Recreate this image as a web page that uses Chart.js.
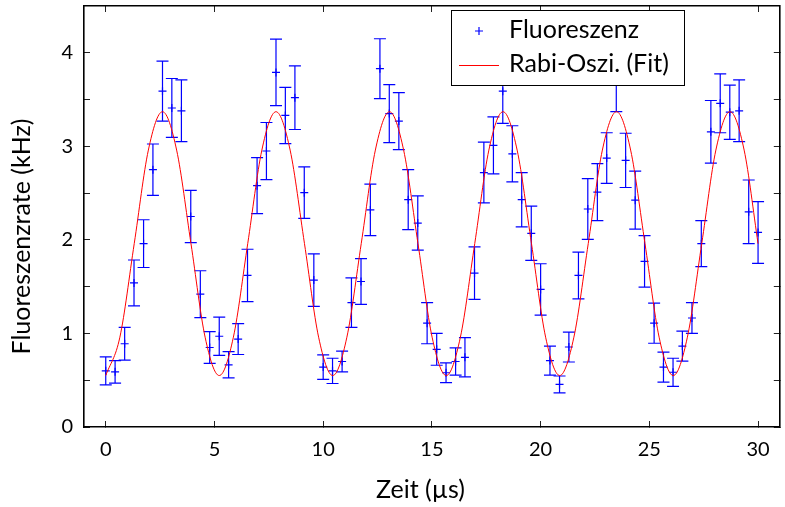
<!DOCTYPE html>
<html>
<head>
<meta charset="utf-8">
<script src="https://cdn.jsdelivr.net/npm/chart.js@4.4.0/dist/chart.umd.min.js"></script>
<style>
  html, body { margin: 0; padding: 0; background: #fff; }
  #wrap { width: 785px; height: 507px; }
</style>
</head>
<body>
<div id="wrap"><canvas id="rabi"></canvas></div>
<script>
// Messpunkte (Zeit in µs, Rate in kHz, Fehler +/-)
const zeit = [0.00, 0.43, 0.87, 1.30, 1.74, 2.17, 2.61, 3.04, 3.48, 3.91,
              4.35, 4.78, 5.22, 5.65, 6.09, 6.52, 6.96, 7.39, 7.83, 8.26,
              8.70, 9.13, 9.57, 10.00, 10.43, 10.87, 11.30, 11.74, 12.17, 12.61,
              13.04, 13.48, 13.91, 14.35, 14.78, 15.22, 15.65, 16.09, 16.52, 16.96,
              17.39, 17.83, 18.26, 18.70, 19.13, 19.57, 20.00, 20.43, 20.87, 21.30,
              21.74, 22.17, 22.61, 23.04, 23.48, 23.91, 24.35, 24.78, 25.22, 25.65,
              26.09, 26.52, 26.96, 27.39, 27.83, 28.26, 28.70, 29.13, 29.57, 30.00];
const rate = [0.60, 0.59, 0.89, 1.54, 1.96, 2.75, 3.59, 3.41, 3.38, 2.25,
              1.42, 0.85, 0.97, 0.665, 0.94, 1.62, 2.58, 2.95, 3.79, 3.33,
              3.52, 2.505, 1.57, 0.64, 0.60, 0.70, 1.33, 1.555, 2.32, 3.83,
              3.35, 3.27, 2.43, 2.18, 1.11, 0.83, 0.58, 0.70, 0.745, 1.645,
              2.72, 3.01, 3.59, 2.92, 2.43, 2.07, 1.47, 0.71, 0.455, 0.855,
              1.62, 2.33, 2.51, 2.875, 3.72, 2.85, 2.425, 1.77, 1.11, 0.64,
              0.585, 0.865, 1.165, 1.96, 3.155, 3.46, 3.365, 3.38, 2.30, 2.08];
const fehler = [0.15, 0.12, 0.175, 0.245, 0.255, 0.275, 0.32, 0.315, 0.33, 0.28,
                0.25, 0.17, 0.205, 0.14, 0.165, 0.28, 0.30, 0.305, 0.355, 0.30,
                0.34, 0.275, 0.28, 0.13, 0.135, 0.11, 0.265, 0.245, 0.275, 0.32,
                0.31, 0.305, 0.32, 0.29, 0.22, 0.17, 0.105, 0.145, 0.21, 0.28,
                0.325, 0.305, 0.345, 0.30, 0.29, 0.29, 0.275, 0.155, 0.09, 0.16,
                0.25, 0.325, 0.305, 0.27, 0.35, 0.29, 0.31, 0.275, 0.215, 0.16,
                0.15, 0.16, 0.165, 0.245, 0.335, 0.315, 0.29, 0.33, 0.34, 0.33];

const fitZeit = [0, 0.65, 1.31, 1.96, 2.61, 3.26, 3.92, 4.57, 5.22, 5.87,
                 6.53, 7.18, 7.83, 8.48, 9.14, 9.79, 10.44, 11.09, 11.75, 12.40,
                 13.05, 13.70, 14.36, 15.01, 15.66, 16.31, 16.97, 17.62, 18.27, 18.92,
                 19.58, 20.23, 20.88, 21.53, 22.19, 22.84, 23.49, 24.14, 24.80, 25.45,
                 26.10, 26.75, 27.41, 28.06, 28.71, 29.36, 30.00];
const fitRate = [0.55, 0.96, 1.96, 2.96, 3.37, 2.96, 1.96, 0.96, 0.55, 0.96,
                 1.96, 2.96, 3.37, 2.96, 1.96, 0.96, 0.55, 0.96, 1.96, 2.96,
                 3.37, 2.96, 1.96, 0.96, 0.55, 0.96, 1.96, 2.96, 3.37, 2.96,
                 1.96, 0.96, 0.55, 0.96, 1.96, 2.96, 3.37, 2.96, 1.96, 0.96,
                 0.55, 0.96, 1.96, 2.96, 3.37, 2.96, 1.96];

const xTicks = [0, 5, 10, 15, 20, 25, 30];
const yTicks = [0, 0.5, 1, 1.5, 2, 2.5, 3, 3.5, 4];

const FONT = 'Lato';
const BLUE = '#0000ff';

// Fehlerbalken
const errorBars = {
    id: 'errorBars',
    beforeDatasetsDraw(chart) {
        const { ctx, scales: { x, y } } = chart;
        ctx.save();
        ctx.strokeStyle = BLUE;
        ctx.lineWidth = 1.2;
        zeit.forEach((t, i) => {
            const px = x.getPixelForValue(t);
            const top = y.getPixelForValue(rate[i] + fehler[i]);
            const bot = y.getPixelForValue(rate[i] - fehler[i]);
            ctx.beginPath();
            ctx.moveTo(px, top); ctx.lineTo(px, bot);
            ctx.moveTo(px - 6, top); ctx.lineTo(px + 6, top);
            ctx.moveTo(px - 6, bot); ctx.lineTo(px + 6, bot);
            ctx.stroke();
        });
        ctx.restore();
    }
};

// Achsentitel und Legende
const extras = {
    id: 'extras',
    afterDraw(chart) {
        const ctx = chart.ctx;
        ctx.save();
        ctx.fillStyle = '#000';
        ctx.font = '25px ' + FONT;
        ctx.textAlign = 'center';
        ctx.textBaseline = 'alphabetic';
        ctx.fillText('Zeit (µs)', 420.5, 497.5);
        ctx.translate(30, 236.5);
        ctx.rotate(-Math.PI / 2);
        ctx.fillText('Fluoreszenzrate (kHz)', 0, 0);
        ctx.restore();

        // legend box
        ctx.save();
        ctx.fillStyle = '#fff';
        ctx.fillRect(451, 10, 234, 75);
        ctx.strokeStyle = '#000';
        ctx.lineWidth = 1;
        ctx.strokeRect(451.5, 10.5, 233, 75);
        ctx.strokeStyle = BLUE;
        ctx.lineWidth = 1.2;
        ctx.beginPath();
        ctx.moveTo(475, 31); ctx.lineTo(483, 31);
        ctx.moveTo(479, 27); ctx.lineTo(479, 35);
        ctx.stroke();
        ctx.strokeStyle = '#ff0000';
        ctx.lineWidth = 1;
        ctx.beginPath();
        ctx.moveTo(459, 65.5); ctx.lineTo(499, 65.5);
        ctx.stroke();
        ctx.fillStyle = '#000';
        ctx.font = '25px ' + FONT;
        ctx.textAlign = 'left';
        ctx.fillText('Fluoreszenz', 509, 37.5);
        ctx.fillText('Rabi-Oszi. (Fit)', 509, 71.5);
        ctx.restore();
    }
};

const setTicks = list => scale => { scale.ticks = list.map(v => ({ value: v })); };
// feste Raender, ohne Label-Ueberhang
const fixSize = (w, h) => s => {
    if (w !== null) s.width = w;
    if (h !== null) s.height = h;
    s.paddingTop = 0; s.paddingBottom = 0;
    s.paddingLeft = 0; s.paddingRight = 0;
};
const gridOpts = { drawOnChartArea: false, tickLength: -6, color: '#222', lineWidth: 1 };
const borderOpts = { display: true, color: '#000', width: 1.6 };

new Chart(document.getElementById('rabi'), {
    type: 'scatter',
    data: {
        datasets: [
            {
                label: 'Rabi-Oszi. (Fit)',
                data: fitZeit.map((t, i) => ({ x: t, y: fitRate[i] })),
                showLine: true,
                borderColor: '#ff0000',
                borderWidth: 1,
                pointRadius: 0,
                cubicInterpolationMode: 'monotone'
            },
            {
                label: 'Fluoreszenz',
                data: zeit.map((t, i) => ({ x: t, y: rate[i] })),
                pointStyle: 'cross',
                pointRadius: 4,
                borderColor: BLUE,
                borderWidth: 1.2
            }
        ]
    },
    options: {
        animation: false,
        responsive: true,
        maintainAspectRatio: false,
        layout: { padding: 0 },
        plugins: {
            legend: { display: false },
            tooltip: { enabled: false }
        },
        scales: {
            x: {
                type: 'linear', position: 'bottom', min: -1, max: 31,
                afterBuildTicks: setTicks(xTicks),
                afterFit: fixSize(null, 80),
                grid: gridOpts, border: borderOpts,
                ticks: { color: '#000', padding: 17, maxRotation: 0, font: { family: FONT, size: 20 } }
            },
            x2: {
                type: 'linear', position: 'top', min: -1, max: 31,
                afterBuildTicks: setTicks(xTicks),
                afterFit: fixSize(null, 6),
                grid: gridOpts, border: borderOpts,
                ticks: { display: false }
            },
            y: {
                type: 'linear', position: 'left', min: 0, max: 4.5,
                afterBuildTicks: setTicks(yTicks),
                afterFit: fixSize(84, null),
                grid: gridOpts, border: borderOpts,
                ticks: {
                    color: '#000', padding: 17, font: { family: FONT, size: 20 },
                    callback: v => Number.isInteger(v) ? String(v) : ''
                }
            },
            y2: {
                type: 'linear', position: 'right', min: 0, max: 4.5,
                afterBuildTicks: setTicks(yTicks),
                afterFit: fixSize(4, null),
                grid: gridOpts, border: borderOpts,
                ticks: { display: false }
            }
        }
    },
    plugins: [errorBars, extras]
});
</script>
</body>
</html>
